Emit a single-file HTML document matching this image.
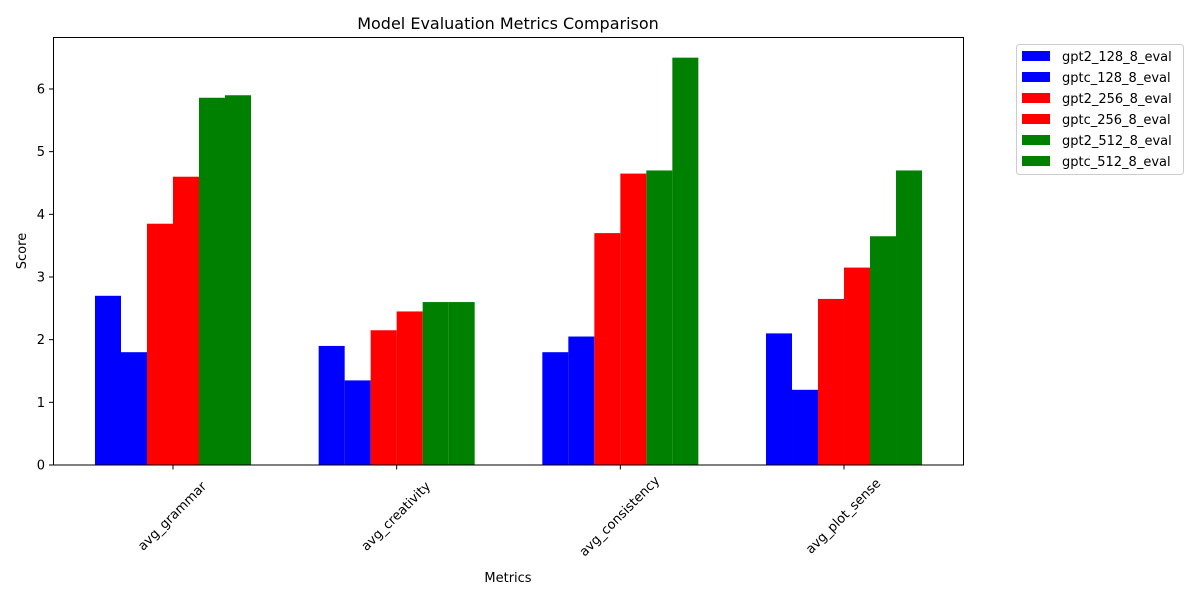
<!DOCTYPE html>
<html><head><meta charset="utf-8"><style>
body{margin:0;background:#fff}
svg text{font-family:"DejaVu Sans","Liberation Sans",sans-serif;fill:#000}
</style></head><body>
<svg id="chart" width="1200" height="600" xmlns="http://www.w3.org/2000/svg">
<rect width="1200" height="600" fill="#fff"/>
<g id="bars"></g>
<rect x="53.5" y="37.5" width="910" height="427.5" fill="none" stroke="#000" stroke-width="1"/>
<g id="axes"></g>
<text x="508" y="29" font-size="16" text-anchor="middle">Model Evaluation Metrics Comparison</text>
<text x="508" y="582" font-size="13" text-anchor="middle">Metrics</text>
<text x="26" y="251" font-size="13" text-anchor="middle" transform="rotate(-90 26 251)">Score</text>
<g id="legend">
<rect x="1016.5" y="44.5" width="167" height="130" rx="3" fill="#fff" stroke="#ccc"/>
</g>
</svg>
<script>
const categories=["avg_grammar","avg_creativity","avg_consistency","avg_plot_sense"];
const seriesNames=["gpt2_128_8_eval","gptc_128_8_eval","gpt2_256_8_eval","gptc_256_8_eval","gpt2_512_8_eval","gptc_512_8_eval"];
const gpt2_128=[2.70,1.90,1.80,2.10];
const gptc_128=[1.80,1.35,2.05,1.20];
const gpt2_256=[3.85,2.15,3.70,2.65];
const gptc_256=[4.60,2.45,4.65,3.15];
const gpt2_512=[5.86,2.60,4.70,3.65];
const gptc_512=[5.90,2.60,6.50,4.70];
const yTicks=[0,1,2,3,4,5,6];
const series=[gpt2_128,gptc_128,gpt2_256,gptc_256,gpt2_512,gptc_512];
const colors=["#0000ff","#0000ff","#ff0000","#ff0000","#008000","#008000"];
const NS="http://www.w3.org/2000/svg";
const y=v=>465-v*62.67;
const x=i=>173+i*223.67;
const bw=26;
const bars=document.getElementById('bars');
series.forEach((s,si)=>{s.forEach((v,ci)=>{
 const r=document.createElementNS(NS,'rect');
 
 
 r.setAttribute('x',x(ci)+(si-3)*bw);r.setAttribute('width',bw);
 r.setAttribute('y',y(v));r.setAttribute('height',y(0)-y(v));
 r.setAttribute('fill',colors[si]);bars.appendChild(r);
});});
const ax=document.getElementById('axes');
yTicks.forEach(t=>{
 const l=document.createElementNS(NS,'line');
 
 
 l.setAttribute('x1',49);l.setAttribute('x2',53.5);l.setAttribute('y1',y(t));l.setAttribute('y2',y(t));l.setAttribute('stroke','#000');ax.appendChild(l);
 const tx=document.createElementNS(NS,'text');
 
 
 tx.setAttribute('x',45);tx.setAttribute('y',y(t)+4.5);tx.setAttribute('font-size','13');tx.setAttribute('text-anchor','end');tx.textContent=t;ax.appendChild(tx);
});
categories.forEach((c,i)=>{
 const l=document.createElementNS(NS,'line');
 
 
 l.setAttribute('x1',x(i));l.setAttribute('x2',x(i));l.setAttribute('y1',465);l.setAttribute('y2',469.5);l.setAttribute('stroke','#000');ax.appendChild(l);
 const tx=document.createElementNS(NS,'text');
 
 
 const px=x(i)-1,py=516;
 tx.setAttribute('x',px);tx.setAttribute('y',py+4.5);tx.setAttribute('font-size','13');tx.setAttribute('text-anchor','middle');
 tx.setAttribute('transform','rotate(-45 '+px+' '+py+')');tx.textContent=c;ax.appendChild(tx);
});
const lg=document.getElementById('legend');
seriesNames.forEach((n,i)=>{
 const cy=56+i*21;
 const r=document.createElementNS(NS,'rect');
 
 
 r.setAttribute('x',1022);r.setAttribute('y',cy-5);r.setAttribute('width',28);r.setAttribute('height',10);r.setAttribute('fill',colors[i]);lg.appendChild(r);
 const t=document.createElementNS(NS,'text');
 
 
 t.setAttribute('x',1062);t.setAttribute('y',cy+5);t.setAttribute('font-size','13');t.textContent=n;lg.appendChild(t);
});
</script>
</body></html>
